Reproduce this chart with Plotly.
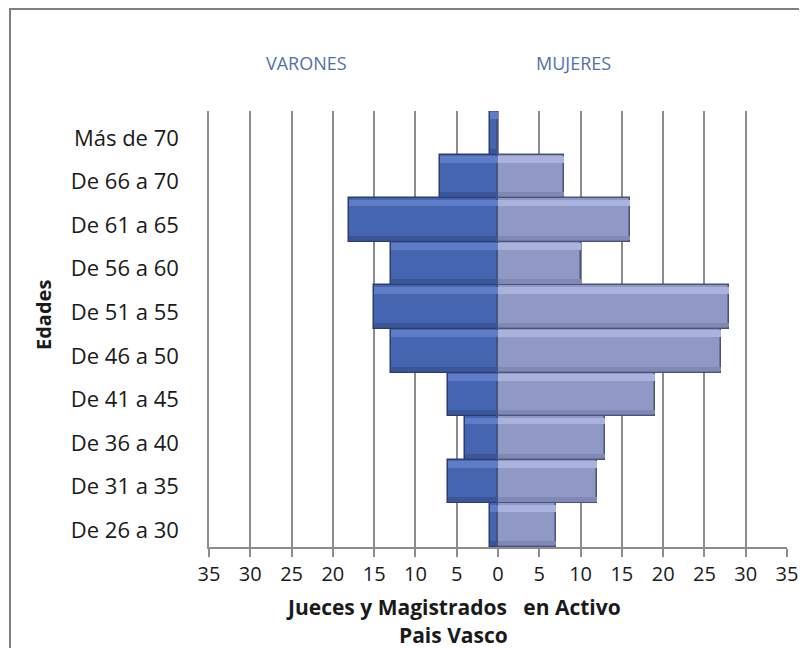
import plotly.graph_objects as go

categories = ["De 26 a 30", "De 31 a 35", "De 36 a 40", "De 41 a 45", "De 46 a 50",
              "De 51 a 55", "De 56 a 60", "De 61 a 65", "De 66 a 70", "Más de 70"]
varones = [1, 6, 4, 6, 13, 15, 13, 18, 7, 1]
mujeres = [7, 12, 13, 19, 27, 28, 10, 16, 8, 0]
tick_vals = [-35, -30, -25, -20, -15, -10, -5, 0, 5, 10, 15, 20, 25, 30, 35]
tick_text = [str(abs(v)) for v in tick_vals]

FONT = "Open Sans"
OFF = 8  # page body margin offset
W, H = 807, 648
L, R, T, B = 209 - OFF, W - (787 - OFF), 111 - OFF, H - (547 - OFF)

men_x = [-v for v in varones]

fig = go.Figure()
# main bars
fig.add_trace(go.Bar(
    y=categories, x=men_x, orientation="h", name="VARONES",
    marker=dict(color="#4665B0", line=dict(color="#2A3C70", width=1.5)),
    showlegend=False,
))
fig.add_trace(go.Bar(
    y=categories, x=mujeres, orientation="h", name="MUJERES",
    marker=dict(color="#9099C6", line=dict(color="#4A5378", width=1.5)),
    showlegend=False,
))
# bevel highlights (top) and shadows (bottom)
for xs, hi, lo in [(men_x, "#5F7CC6", "#3B5696"), (mujeres, "#A9B3DD", "#8089B6")]:
    fig.add_trace(go.Bar(y=categories, x=xs, orientation="h", offset=0.31, width=0.16,
                         marker=dict(color=hi, line=dict(width=0)),
                         showlegend=False, hoverinfo="skip"))
    fig.add_trace(go.Bar(y=categories, x=xs, orientation="h", offset=-0.46, width=0.1,
                         marker=dict(color=lo, line=dict(width=0)),
                         showlegend=False, hoverinfo="skip"))

pw, ph = W - L - R, H - T - B


def px(x):
    return (x - OFF - L) / pw


def py(y):
    return 1 - (y - OFF - T) / ph


fig.update_layout(
    width=W, height=H,
    margin=dict(l=L, r=R, t=T, b=B),
    paper_bgcolor="white", plot_bgcolor="white",
    barmode="overlay", bargap=0,
    font=dict(family=FONT, color="#1a1a1a"),
    xaxis=dict(
        range=[-35, 35], tickmode="array", tickvals=tick_vals, ticktext=tick_text,
        showgrid=True, gridcolor="#8c8c8c", gridwidth=1.5,
        zeroline=False, showline=True, linecolor="#8c8c8c", linewidth=1.5,
        ticks="outside", ticklen=8, tickcolor="#8c8c8c", tickwidth=1.5,
        tickfont=dict(size=20, family=FONT, color="#1a1a1a"),
        fixedrange=True,
    ),
    yaxis=dict(
        showgrid=False, showline=True, linecolor="#8c8c8c", linewidth=1.5,
        ticks="", tickfont=dict(size=22, family=FONT, color="#1a1a1a"),
        ticklabelstandoff=24, ticklabelshift=5,
        fixedrange=True,
    ),
)

annots = [
    ("VARONES", 306, 63, 18, "#5370AA", 0),
    ("MUJERES", 573, 63, 18, "#5370AA", 0),
    ("<b>Jueces y Magistrados   en Activo</b>", 453, 607, 21, "#1a1a1a", 0),
    ("<b>Pais Vasco</b>", 453, 635, 21, "#1a1a1a", 0),
    ("<b>Edades</b>", 43, 315, 20, "#1a1a1a", -90),
]
for text, x, y, size, color, ang in annots:
    fig.add_annotation(text=text, x=px(x), y=py(y), xref="paper", yref="paper",
                       showarrow=False, xanchor="center", yanchor="middle",
                       textangle=ang, font=dict(size=size, color=color, family=FONT))

# outer frame
fig.add_shape(type="rect", xref="paper", yref="paper",
              x0=px(10), x1=px(840), y0=py(680), y1=py(9),
              line=dict(color="#808080", width=2), layer="below")

fig.write_html("out.html")
